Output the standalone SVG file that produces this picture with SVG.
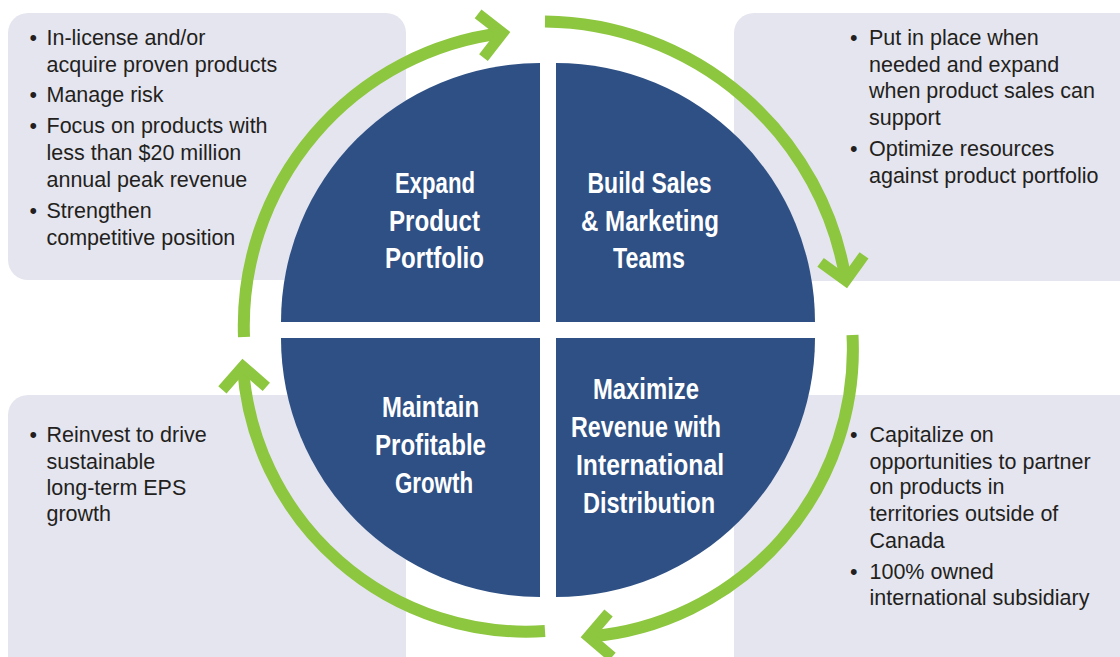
<svg xmlns="http://www.w3.org/2000/svg" width="1120" height="657" viewBox="0 0 1120 657">
  <style>
    .box { fill: #E5E5EF; }
    .quad { fill: #2E5084; }
    .title { font-family: "Liberation Sans", Arial, sans-serif; font-weight: bold; font-size: 29px; fill: #FFFFFF; text-anchor: middle; }
    .body { font-family: "Liberation Sans", Arial, sans-serif; font-size: 21.5px; fill: #231F20; }
    .arc { fill: none; stroke: #8DC63F; stroke-width: 12; stroke-linecap: butt; marker-end: url(#chev); }
  </style>
  <defs>
    <marker id="chev" markerUnits="userSpaceOnUse" markerWidth="80" markerHeight="80" viewBox="-40 -40 80 80" refX="0" refY="0" orient="auto" overflow="visible">
      <path d="M-22,-22 L0,0 L-22,22" fill="none" stroke="#8DC63F" stroke-width="11" stroke-linejoin="miter" stroke-miterlimit="10"/>
    </marker>
  </defs>
  <rect width="1120" height="657" fill="#FFFFFF"/>

  <g id="box-expand">
    <rect class="box" x="8" y="13" width="398" height="267" rx="20"/>
    <text class="body">
      <tspan x="29.5" y="45">•</tspan><tspan x="46.5" y="45">In-license and/or</tspan>
      <tspan x="46.5" y="71.7">acquire proven products</tspan>
      <tspan x="29.5" y="101.7">•</tspan><tspan x="46.5" y="101.7">Manage risk</tspan>
      <tspan x="29.5" y="133.3">•</tspan><tspan x="46.5" y="133.3">Focus on products with</tspan>
      <tspan x="46.5" y="160">less than $20 million</tspan>
      <tspan x="46.5" y="186.7">annual peak revenue</tspan>
      <tspan x="29.5" y="218.3">•</tspan><tspan x="46.5" y="218.3">Strengthen</tspan>
      <tspan x="46.5" y="245">competitive position</tspan>
    </text>
  </g>

  <g id="box-build">
    <rect class="box" x="734" y="13" width="420" height="268" rx="20"/>
    <text class="body">
      <tspan x="850" y="45">•</tspan><tspan x="869" y="45">Put in place when</tspan>
      <tspan x="869" y="71.7">needed and expand</tspan>
      <tspan x="869" y="98.3">when product sales can</tspan>
      <tspan x="869" y="125">support</tspan>
      <tspan x="850" y="156">•</tspan><tspan x="869" y="156">Optimize resources</tspan>
      <tspan x="869" y="182.7">against product portfolio</tspan>
    </text>
  </g>

  <g id="box-maintain">
    <rect class="box" x="8" y="395" width="398" height="300" rx="20"/>
    <text class="body">
      <tspan x="29.5" y="442">•</tspan><tspan x="46.5" y="442">Reinvest to drive</tspan>
      <tspan x="46.5" y="468.7">sustainable</tspan>
      <tspan x="46.5" y="494.7">long-term EPS</tspan>
      <tspan x="46.5" y="520.5">growth</tspan>
    </text>
  </g>

  <g id="box-maximize">
    <rect class="box" x="734" y="395" width="420" height="300" rx="20"/>
    <text class="body">
      <tspan x="850" y="442">•</tspan><tspan x="869.5" y="442">Capitalize on</tspan>
      <tspan x="869.5" y="468.7">opportunities to partner</tspan>
      <tspan x="869.5" y="494">on products in</tspan>
      <tspan x="869.5" y="521">territories outside of</tspan>
      <tspan x="869.5" y="547.7">Canada</tspan>
      <tspan x="850" y="579.3">•</tspan><tspan x="869.5" y="579.3">100% owned</tspan>
      <tspan x="869.5" y="605.3">international subsidiary</tspan>
    </text>
  </g>

  <g id="connectors">
    <path class="arc" d="M244,337 A295,295 0 0 1 502.6,33"/>
    <path class="arc" d="M545,21.5 A308,308 0 0 1 845.8,280.6"/>
    <path class="arc" d="M852.5,335 A288,288 0 0 1 588.4,636.7"/>
    <path class="arc" d="M545,631 A284,284 0 0 1 242.9,366.4"/>
  </g>

  <g id="node-expand">
    <path class="quad" d="M540,322 L281,322 A259,259 0 0 1 540,63 Z"/>
    <text class="title" x="435" y="193" textLength="80" lengthAdjust="spacingAndGlyphs">Expand</text>
    <text class="title" x="434.5" y="231" textLength="91" lengthAdjust="spacingAndGlyphs">Product</text>
    <text class="title" x="434.5" y="268" textLength="99" lengthAdjust="spacingAndGlyphs">Portfolio</text>
  </g>

  <g id="node-build">
    <path class="quad" d="M556,322 L556,63 A259,259 0 0 1 815,322 Z"/>
    <text class="title" x="649.5" y="193" textLength="124" lengthAdjust="spacingAndGlyphs">Build Sales</text>
    <text class="title" x="650" y="231" textLength="138" lengthAdjust="spacingAndGlyphs">&amp; Marketing</text>
    <text class="title" x="649" y="268" textLength="72" lengthAdjust="spacingAndGlyphs">Teams</text>
  </g>

  <g id="node-maintain">
    <path class="quad" d="M540,338 L540,597 A259,259 0 0 1 281,338 Z"/>
    <text class="title" x="430.5" y="417" textLength="97" lengthAdjust="spacingAndGlyphs">Maintain</text>
    <text class="title" x="430.5" y="455" textLength="111" lengthAdjust="spacingAndGlyphs">Profitable</text>
    <text class="title" x="434" y="493" textLength="78" lengthAdjust="spacingAndGlyphs">Growth</text>
  </g>

  <g id="node-maximize">
    <path class="quad" d="M556,338 L815,338 A259,259 0 0 1 556,597 Z"/>
    <text class="title" x="646" y="399" textLength="106" lengthAdjust="spacingAndGlyphs">Maximize</text>
    <text class="title" x="646" y="437" textLength="150" lengthAdjust="spacingAndGlyphs">Revenue with</text>
    <text class="title" x="650" y="475" textLength="148" lengthAdjust="spacingAndGlyphs">International</text>
    <text class="title" x="649" y="513" textLength="132" lengthAdjust="spacingAndGlyphs">Distribution</text>
  </g>
</svg>
